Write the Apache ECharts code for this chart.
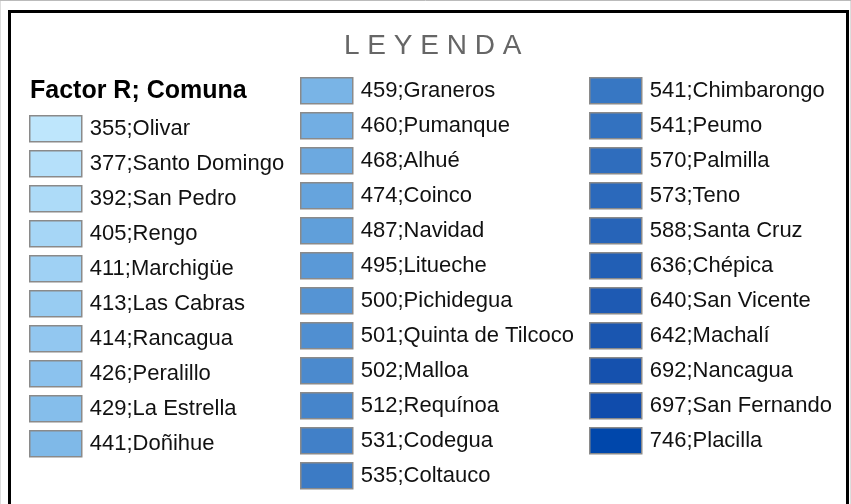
<!DOCTYPE html>
<html>
<head>
<meta charset="utf-8">
<script src="https://cdn.jsdelivr.net/npm/echarts@6/dist/echarts.min.js"></script>
<style>
html,body{margin:0;padding:0;background:#fff;}
#chart{width:851px;height:504px;}
</style>
</head>
<body>
<div id="chart"></div>
<script>
var factorR = [355,377,392,405,411,413,414,426,429,441,459,460,468,474,487,495,500,501,502,512,531,535,541,541,570,573,588,636,640,642,692,697,746];
var comunas = ['Olivar','Santo Domingo','San Pedro','Rengo','Marchigüe','Las Cabras','Rancagua','Peralillo','La Estrella','Doñihue',
  'Graneros','Pumanque','Alhué','Coinco','Navidad','Litueche','Pichidegua','Quinta de Tilcoco','Malloa','Requínoa','Codegua','Coltauco',
  'Chimbarongo','Peumo','Palmilla','Teno','Santa Cruz','Chépica','San Vicente','Machalí','Nancagua','San Fernando','Placilla'];
var colors = ['#bee6fc','#b5e0fa','#addbf8','#a6d6f6','#9fd1f4','#98ccf2','#92c7f0','#8bc2ee','#85beeb','#7fb9e8',
  '#79b4e6','#72aee3','#6ca9e0','#66a4dd','#609fda','#5a99d7','#5594d4','#508fd1','#4b8ace','#4685cb','#4180c8','#3c7bc5',
  '#3777c3','#3372c0','#2f6dbd','#2b69bb','#2764b8','#225fb5','#1e5ab3','#1a56b0','#1551ae','#104cac','#0047ab'];
var columnSizes = [10, 12, 11];
var legendTitle = 'LEYENDA';
var fieldTitle = 'Factor R; Comuna';

var names = factorR.map(function(v, i){ return v + ';' + comunas[i]; });

var series = names.map(function(n, i){
  return { type: 'bar', name: n, data: [], itemStyle: { color: colors[i] } };
});

var colLeft = [29, 300, 589];
var colTop = [115, 77, 77];
var legends = [];
var start = 0;
columnSizes.forEach(function(sz, c){
  legends.push({
    orient: 'vertical',
    left: colLeft[c],
    top: colTop[c],
    height: 440,
    padding: 0,
    itemWidth: 52,
    itemHeight: 26,
    itemGap: 7.5,
    selectedMode: false,
    icon: 'rect',
    itemStyle: { borderColor: '#8a8a8a', borderWidth: 1.5 },
    textStyle: { fontFamily: 'Liberation Sans, Arial, sans-serif', fontSize: 22, color: '#111', lineHeight: 26, padding: [0,0,0,3] },
    data: names.slice(start, start + sz)
  });
  start += sz;
});

var chart = echarts.init(document.getElementById('chart'), null, { renderer: 'canvas' });
chart.setOption({
  animation: false,
  backgroundColor: '#fff',
  title: [
    { text: legendTitle.split('').join(' '), left: 344, top: 32, padding: 0,
      textStyle: { fontFamily: 'Liberation Sans, Arial, sans-serif', fontSize: 28, fontWeight: 'normal', color: '#666' } },
    { text: fieldTitle, left: 30, top: 79, padding: 0,
      textStyle: { fontFamily: 'Liberation Sans, Arial, sans-serif', fontSize: 25, fontWeight: 'bold', color: '#000' } }
  ],
  graphic: [
    { type: 'rect', shape: { x: 0, y: 0.5, width: 851, height: 600 }, style: { fill: null, stroke: '#bbb', lineWidth: 1 }, silent: true },
    { type: 'rect', shape: { x: 9.5, y: 11.5, width: 838, height: 600 }, style: { fill: null, stroke: '#000', lineWidth: 3 }, silent: true }
  ],
  grid: { left: 0, top: 0, width: 1, height: 1, show: false },
  xAxis: { type: 'category', show: false, data: [] },
  yAxis: { type: 'value', show: false },
  legend: legends,
  series: series
});
</script>
</body>
</html>
